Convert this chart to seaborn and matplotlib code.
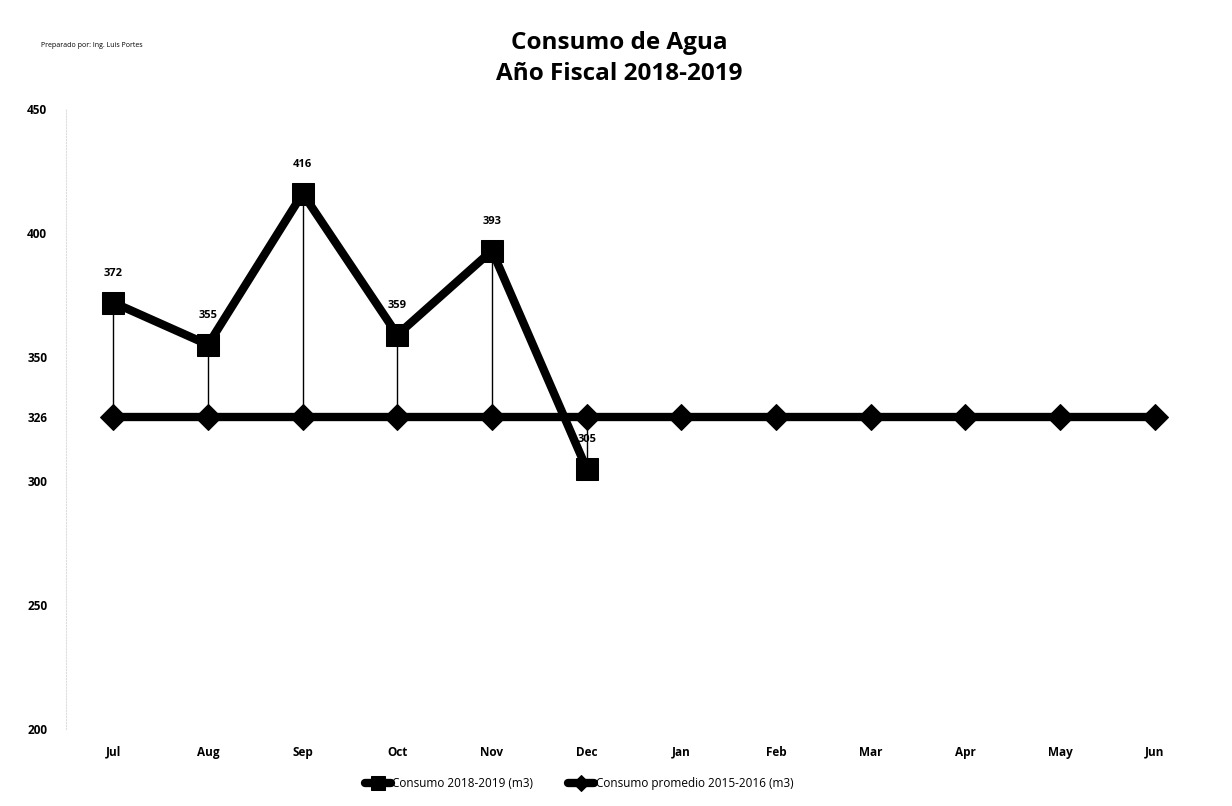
import numpy as np
import pandas as pd
import matplotlib
matplotlib.use('Agg')
import matplotlib.pyplot as plt
import seaborn as sns

# data
months = ['Jul', 'Aug', 'Sep', 'Oct', 'Nov', 'Dec', 'Jan', 'Feb', 'Mar', 'Apr', 'May', 'Jun']
consumo_2018 = [372, 355, 416, 359, 393, 305]
promedio_2015 = [326] * 12
y_ticks = [200, 250, 300, 326, 350, 400, 450]

label_actual = 'Consumo 2018-2019 (m3)'
label_prom = 'Consumo promedio 2015-2016 (m3)'

sns.set_style('white')
plt.rcParams['font.family'] = ['Open Sans', 'DejaVu Sans']
plt.rcParams['text.color'] = 'black'
plt.rcParams['xtick.color'] = 'black'
plt.rcParams['ytick.color'] = 'black'

df_act = pd.DataFrame({'x': np.arange(len(consumo_2018)), 'y': consumo_2018})
df_prom = pd.DataFrame({'x': np.arange(len(promedio_2015)), 'y': promedio_2015})

fig = plt.figure(figsize=(12.32, 8.06), dpi=100)
ax = fig.add_axes([0.0536, 0.0955, 0.922, 0.769])

# thin drop lines from each point to the average line
ax.vlines(df_act['x'], df_prom['y'][:len(df_act)], df_act['y'], color='black', lw=1.0, zorder=1)

sns.lineplot(data=df_prom, x='x', y='y', ax=ax, color='black', lw=6, marker='D',
             markersize=13, markeredgecolor='black', label=label_prom, zorder=2)
sns.lineplot(data=df_act, x='x', y='y', ax=ax, color='black', lw=6, marker='s',
             markersize=16, markeredgecolor='black', label=label_actual, zorder=3)

for xi, yi in zip(df_act['x'], df_act['y']):
    ax.annotate(str(yi), (xi, yi), xytext=(0, 17), textcoords='offset points',
                ha='center', va='bottom', fontsize=8, fontweight='bold')

ax.set_xlim(-0.5, len(months) - 0.5)
ax.set_ylim(200, 450)
ax.set_xticks(range(len(months)))
ax.set_xticklabels(months, fontsize=8.5, fontweight='bold')
ax.set_yticks(y_ticks)
ax.set_yticklabels([str(t) for t in y_ticks], fontsize=8.5, fontweight='bold')
ax.tick_params(axis='x', pad=12, length=0)
ax.tick_params(axis='y', pad=28, length=0)
for lbl in ax.get_yticklabels():
    lbl.set_horizontalalignment('left')
ax.set_xlabel('')
ax.set_ylabel('')
for s in ['top', 'right', 'bottom']:
    ax.spines[s].set_visible(False)
ax.spines['left'].set_color('#dddddd')
ax.spines['left'].set_linestyle(':')
ax.spines['left'].set_linewidth(0.8)

handles, labels = ax.get_legend_handles_labels()
order = [labels.index(label_actual), labels.index(label_prom)]
leg = fig.legend([handles[i] for i in order], [labels[i] for i in order],
                 loc='center', bbox_to_anchor=(0.47, 0.028), ncol=2, frameon=False,
                 fontsize=8.5, handlelength=2.2, handletextpad=0.1, columnspacing=3,
                 markerscale=0.6)
ax.get_legend().remove()

fig.text(0.503, 0.947, 'Consumo de Agua', ha='center', va='center', fontsize=17.5, fontweight='bold')
fig.text(0.503, 0.908, 'Año Fiscal 2018-2019', ha='center', va='center', fontsize=17.5, fontweight='bold')
fig.text(0.033, 0.943, 'Preparado por: Ing. Luis Portes', ha='left', va='center', fontsize=5)

fig.savefig('out.png', dpi=100)
